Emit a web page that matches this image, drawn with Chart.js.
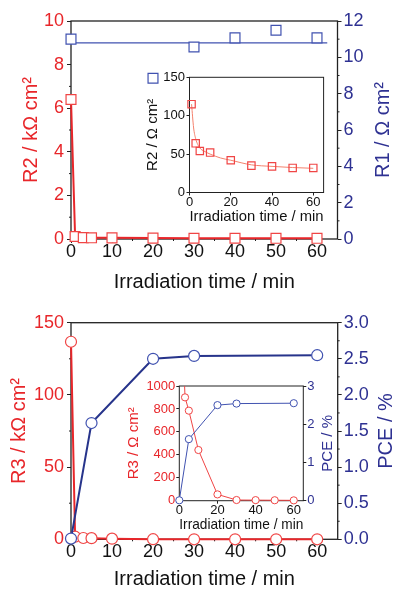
<!DOCTYPE html>
<html lang="en">
<head>
<meta charset="UTF-8">
<title>R1, R2, R3 and PCE vs irradiation time</title>
<script src="https://cdn.jsdelivr.net/npm/chart.js"></script>
<style>
    body { margin: 0; background: #fff; }
    #fig { position: relative; width: 394px; height: 593px; }
    .box { position: absolute; }
    #topBox { left: 0; top: 0; width: 394px; height: 296px; }
    #topInsetBox { left: 140px; top: 68px; width: 190px; height: 160px; }
    #botBox { left: 0; top: 296px; width: 394px; height: 297px; }
    #botInsetBox { left: 120px; top: 376px; width: 220px; height: 160px; }
</style>
</head>
<body>
<div id="fig">
    <div class="box" id="topBox"><canvas id="topMain"></canvas></div>
    <div class="box" id="topInsetBox"><canvas id="topInset"></canvas></div>
    <div class="box" id="botBox"><canvas id="botMain"></canvas></div>
    <div class="box" id="botInsetBox"><canvas id="botInset"></canvas></div>
</div>
<script>
    // ---- data ----
    // top panel: R2 (Ohm cm2, shown in kOhm cm2 in the main plot) and R1
    const timeR2 = [0, 1, 3, 5, 10, 20, 30, 40, 50, 60];
    const r2Ohm = [6400, 115, 64, 54, 52, 42, 35, 34, 32, 32];
    const timeR1 = [0, 20, 30, 40, 50, 60];
    const r1Ohm = [11.0, 8.85, 10.57, 11.07, 11.49, 11.07];
    const r1FitTime = [0, 62.5];
    const r1Fit = [10.8, 10.8];
    const r2FitTime = [1, 2, 3, 5, 7, 10, 15, 20, 30, 40, 50, 60];
    const r2Fit = [115, 84, 70, 58, 54, 50, 45, 42, 36, 34, 32.5, 31.5];

    // bottom panel: R3 (Ohm cm2) and PCE (%)
    const timeR3 = [0, 1, 3, 5, 10, 20, 30, 40, 50, 60];
    const r3Ohm = [136800, 1800, 901, 785, 442, 55, 6, 5, 4, 3];
    const timePce = [0, 5, 20, 30, 60];
    const pce = [0.01, 1.61, 2.50, 2.54, 2.55];

    // tick labels
    const xTicks = [0, 10, 20, 30, 40, 50, 60];
    const insetXTicks = [0, 20, 40, 60];
    const r2Ticks = [0, 2, 4, 6, 8, 10];
    const r1Ticks = [0, 2, 4, 6, 8, 10, 12];
    const r2InsetTicks = [0, 50, 100, 150];
    const r3Ticks = [0, 50, 100, 150];
    const pceTicks = [0, 0.5, 1, 1.5, 2, 2.5, 3];
    const r3InsetTicks = [0, 200, 400, 600, 800, 1000];
    const pceInsetTicks = [0, 1, 2, 3];

    const FONT = 'Arial, "Liberation Sans", sans-serif';
    const RED = '#e8262a', RED_MK = '#f04545', RED_FIT = '#f4806c';
    const BLUE = '#2e3192', BLUE_LN = '#27348b', BLUE_MK = '#4052b0';

    function pts(xs, ys, f) {
        return xs.map((x, i) => ({ x: x, y: f ? f(ys[i]) : ys[i] }));
    }

    // box round the plot area + short minor ticks
    const framePlugin = {
        id: 'frame',
        beforeDatasetsDraw(chart, args, opts) {
            const ctx = chart.ctx, a = chart.chartArea;
            ctx.save();
            ctx.strokeStyle = '#222';
            ctx.lineWidth = opts.width || 1;
            ctx.strokeRect(a.left, a.top, a.right - a.left, a.bottom - a.top);
            const minor = opts.minor || {};
            const len = opts.minorLen || 2;
            ctx.lineWidth = 1;
            ctx.beginPath();
            Object.keys(minor).forEach(id => {
                const s = chart.scales[id];
                for (let k = 1; ; k++) {
                    const v = s.min + k * minor[id];
                    if (v >= s.max - 1e-9) break;
                    if (s.ticks.some(t => Math.abs(t.value - v) < 1e-9)) continue;
                    const p = s.getPixelForValue(v);
                    if (s.position === 'left') { ctx.moveTo(a.left, p); ctx.lineTo(a.left - len, p); }
                    else if (s.position === 'right') { ctx.moveTo(a.right, p); ctx.lineTo(a.right + len, p); }
                    else { ctx.moveTo(p, a.bottom); ctx.lineTo(p, a.bottom + len); }
                }
            });
            ctx.stroke();
            ctx.restore();
        }
    };

    // right-hand axis title, reading bottom to top
    const sideTitle = {
        id: 'sideTitle',
        afterDraw(chart, args, opts) {
            if (!opts.text) return;
            const ctx = chart.ctx, a = chart.chartArea;
            ctx.save();
            ctx.translate(chart.width - opts.offset, (a.top + a.bottom) / 2);
            ctx.rotate(-Math.PI / 2);
            ctx.font = opts.size + 'px ' + FONT;
            ctx.fillStyle = opts.color;
            ctx.textAlign = 'center';
            ctx.textBaseline = 'middle';
            ctx.fillText(opts.text, 0, 0);
            ctx.restore();
        }
    };

    function axis(o) {
        const horiz = o.position === 'bottom';
        return {
            type: 'linear',
            position: o.position,
            min: o.min,
            max: o.max,
            afterBuildTicks: s => { s.ticks = o.ticks.map(v => ({ value: v })); },
            afterFit: s => { if (horiz) s.height = o.fit; else s.width = o.fit; },
            border: { display: false },
            grid: { drawOnChartArea: false, tickLength: o.tickLen, tickColor: '#222', tickWidth: 1 },
            ticks: {
                color: o.color || '#111',
                font: { family: FONT, size: o.size },
                padding: o.pad,
                autoSkip: false,
                maxRotation: 0,
                callback: o.fmt || (v => v)
            },
            title: o.title ? {
                display: true,
                text: o.title,
                color: o.titleColor || '#111',
                font: { family: FONT, size: o.titleSize },
                padding: o.titlePad
            } : { display: false }
        };
    }

    const base = {
        responsive: true,
        maintainAspectRatio: false,
        animation: false,
        events: []
    };

    // ---- top main ----
    new Chart(document.getElementById('topMain'), {
        type: 'line',
        data: {
            datasets: [
                { data: pts(timeR2, r2Ohm, v => v / 1000), yAxisID: 'y', borderColor: RED, borderWidth: 2,
                  pointStyle: 'rect', pointRadius: 7, pointBorderColor: RED_MK, pointBackgroundColor: '#fff',
                  pointBorderWidth: 1.2, clip: false },
                { data: pts(timeR1, r1Ohm), yAxisID: 'y1', showLine: false, pointStyle: 'rect', pointRadius: 7,
                  pointBorderColor: BLUE_MK, pointBackgroundColor: '#fff', pointBorderWidth: 1.2, clip: false },
                { data: pts(r1FitTime, r1Fit), yAxisID: 'y1', borderColor: BLUE_MK, borderWidth: 1.2,
                  pointRadius: 0, clip: false }
            ]
        },
        options: Object.assign({}, base, {
            layout: { padding: { top: 21 } },
            scales: {
                x: axis({ position: 'bottom', min: 0, max: 65, ticks: xTicks, size: 18, fit: 57, tickLen: 4, pad: -2,
                          title: 'Irradiation time / min', titleSize: 20, titlePad: { top: 0, bottom: 2 } }),
                y: axis({ position: 'left', min: 0, max: 10, ticks: r2Ticks, size: 18, fit: 71, tickLen: 4, pad: 3,
                          color: RED, title: 'R2 / k\u03A9 cm\u00B2', titleColor: RED, titleSize: 20,
                          titlePad: { top: 19, bottom: 0 } }),
                y1: axis({ position: 'right', min: 0, max: 12, ticks: r1Ticks, size: 18, fit: 56.5, tickLen: 4, pad: 2,
                           color: BLUE })
            },
            plugins: {
                legend: { display: false },
                tooltip: { enabled: false },
                frame: { width: 1.3, minor: { x: 5, y: 1, y1: 1 } },
                sideTitle: { text: 'R1 / \u03A9 cm\u00B2', color: BLUE, size: 20, offset: 11 }
            }
        }),
        plugins: [framePlugin, sideTitle]
    });

    // ---- top inset ----
    new Chart(document.getElementById('topInset'), {
        type: 'line',
        data: {
            datasets: [
                { data: pts(timeR2.slice(1), r2Ohm.slice(1)), showLine: false, pointStyle: 'rect', pointRadius: 5.2,
                  pointBorderColor: RED_MK, pointBackgroundColor: 'rgba(255,255,255,0)', pointBorderWidth: 1.2, clip: false },
                { data: pts(r2FitTime, r2Fit), borderColor: RED_FIT, borderWidth: 1, pointRadius: 0,
                  cubicInterpolationMode: 'monotone', clip: false }
            ]
        },
        options: Object.assign({}, base, {
            layout: { padding: { top: 8.7, right: 4.3 } },
            scales: {
                x: axis({ position: 'bottom', min: 0, max: 65, ticks: insetXTicks, size: 13, fit: 35.5, tickLen: 3, pad: -1,
                          title: 'Irradiation time / min', titleSize: 15, titlePad: { top: 0, bottom: 2 } }),
                y: axis({ position: 'left', min: 0, max: 150, ticks: r2InsetTicks, size: 13, fit: 49.5, tickLen: 3, pad: 1.5,
                          title: 'R2 / \u03A9 cm\u00B2', titleSize: 15, titlePad: { top: 3.5, bottom: 0 } })
            },
            plugins: {
                legend: { display: false },
                tooltip: { enabled: false },
                frame: { width: 1 }
            }
        }),
        plugins: [framePlugin]
    });

    // ---- bottom main ----
    new Chart(document.getElementById('botMain'), {
        type: 'line',
        data: {
            datasets: [
                { data: pts(timePce, pce), yAxisID: 'y1', borderColor: BLUE_LN, borderWidth: 2, pointRadius: 5.5,
                  pointBorderColor: BLUE_MK, pointBackgroundColor: '#fff', pointBorderWidth: 1.2, clip: false },
                { data: pts(timeR3, r3Ohm, v => v / 1000), yAxisID: 'y', borderColor: RED, borderWidth: 2,
                  pointRadius: 5.5, pointBorderColor: RED_MK, pointBackgroundColor: '#fff',
                  pointBorderWidth: 1.2, clip: false }
            ]
        },
        options: Object.assign({}, base, {
            layout: { padding: { top: 26.7 } },
            scales: {
                x: axis({ position: 'bottom', min: 0, max: 65, ticks: xTicks, size: 18, fit: 53.7, tickLen: 4, pad: -2,
                          title: 'Irradiation time / min', titleSize: 20, titlePad: { top: 0, bottom: 2 } }),
                y: axis({ position: 'left', min: 0, max: 150, ticks: r3Ticks, size: 18, fit: 71, tickLen: 4, pad: 3,
                          color: RED, title: 'R3 / k\u03A9 cm\u00B2', titleColor: RED, titleSize: 20,
                          titlePad: { top: 7, bottom: 0 } }),
                y1: axis({ position: 'right', min: 0, max: 3, ticks: pceTicks, size: 18, fit: 56.3, tickLen: 4, pad: 2,
                           color: BLUE, fmt: v => v.toFixed(1) })
            },
            plugins: {
                legend: { display: false },
                tooltip: { enabled: false },
                frame: { width: 1.3, minor: { x: 5, y: 25, y1: 0.25 } },
                sideTitle: { text: 'PCE / %', color: BLUE, size: 20, offset: 8 }
            }
        }),
        plugins: [framePlugin, sideTitle]
    });

    // ---- bottom inset ----
    new Chart(document.getElementById('botInset'), {
        type: 'line',
        data: {
            datasets: [
                { data: pts(timePce, pce), yAxisID: 'y1', borderColor: BLUE_MK, borderWidth: 1, pointRadius: 3.6,
                  pointBorderColor: BLUE_MK, pointBackgroundColor: '#fff', pointBorderWidth: 1, clip: false },
                { data: pts(timeR3.slice(1), r3Ohm.slice(1)), yAxisID: 'y', borderColor: RED_MK, borderWidth: 1,
                  pointRadius: 3.6, pointBorderColor: RED_MK, pointBackgroundColor: '#fff', pointBorderWidth: 1,
                  clip: { left: 6, right: 6, top: 0, bottom: 6 } }
            ]
        },
        options: Object.assign({}, base, {
            layout: { padding: { top: 10 } },
            scales: {
                x: axis({ position: 'bottom', min: 0, max: 65, ticks: insetXTicks, size: 13, fit: 35.3, tickLen: 3, pad: -1,
                          title: 'Irradiation time / min', titleSize: 15, titlePad: { top: 0, bottom: 2 } }),
                y: axis({ position: 'left', min: 0, max: 1000, ticks: r3InsetTicks, size: 13, fit: 59.3, tickLen: 3, pad: 1,
                          color: RED, title: 'R3 / \u03A9 cm\u00B2', titleColor: RED, titleSize: 15,
                          titlePad: { top: 5, bottom: 0 } }),
                y1: axis({ position: 'right', min: 0, max: 3, ticks: pceInsetTicks, size: 13, fit: 36.7, tickLen: 3, pad: 1,
                           color: BLUE })
            },
            plugins: {
                legend: { display: false },
                tooltip: { enabled: false },
                frame: { width: 1 },
                sideTitle: { text: 'PCE / %', color: BLUE, size: 15, offset: 12 }
            }
        }),
        plugins: [framePlugin, sideTitle]
    });
</script>
</body>
</html>
